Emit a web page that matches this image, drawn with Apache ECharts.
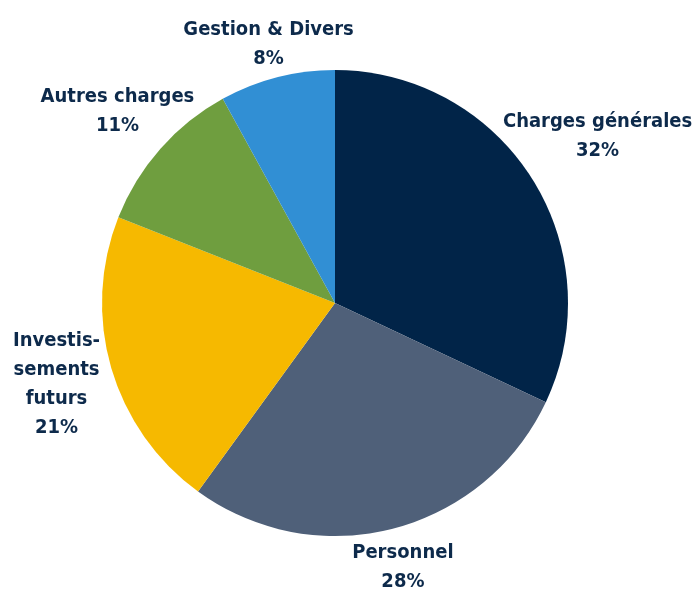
<!DOCTYPE html>
<html>
<head>
<meta charset="utf-8">
<script src="https://cdn.jsdelivr.net/npm/echarts@6/dist/echarts.min.js"></script>
<style>
html,body{margin:0;padding:0;background:#fff;}
#chart{width:694px;height:590px;}
</style>
</head>
<body>
<div id="chart"></div>
<script>
const categories = ["Charges générales", "Personnel", "Investis-\nsements\nfuturs", "Autres charges", "Gestion & Divers"];
const values = [32, 28, 21, 11, 8];
const colors = ["#012448", "#4f6079", "#f6b900", "#6f9e3f", "#318fd4"];

const cx = 335, cy = 303, R = 233;
const labelDist = [311, 273, 290, 290, 267];
const total = values.reduce((a, b) => a + b, 0);
const midAngles = [];
let acc = 0;
values.forEach(v => { midAngles.push((acc + v / 2) / total * 2 * Math.PI); acc += v; });

const chart = echarts.init(document.getElementById('chart'));
chart.setOption({
  animation: false,
  series: [{
    type: 'pie',
    center: [cx, cy],
    radius: R,
    startAngle: 90,
    clockwise: true,
    data: categories.map((c, i) => ({ name: c, value: values[i], itemStyle: { color: colors[i] } })),
    itemStyle: { borderWidth: 0 },
    label: {
      show: true,
      position: 'outside',
      alignTo: 'none',
      overflow: 'none',
      formatter: '{b}\n{d}%',
      color: '#0d2a4b',
      fontFamily: '"DejaVu Sans Condensed", "Liberation Sans Narrow", sans-serif',
      fontSize: 20,
      fontWeight: 'bold',
      lineHeight: 29,
      align: 'center'
    },
    labelLine: { show: false },
    labelLayout: function (p) {
      const i = p.dataIndex;
      const a = midAngles[i];
      return {
        x: cx + labelDist[i] * Math.sin(a),
        y: cy - labelDist[i] * Math.cos(a),
        align: 'center',
        verticalAlign: 'middle'
      };
    }
  }]
});
</script>
</body>
</html>
